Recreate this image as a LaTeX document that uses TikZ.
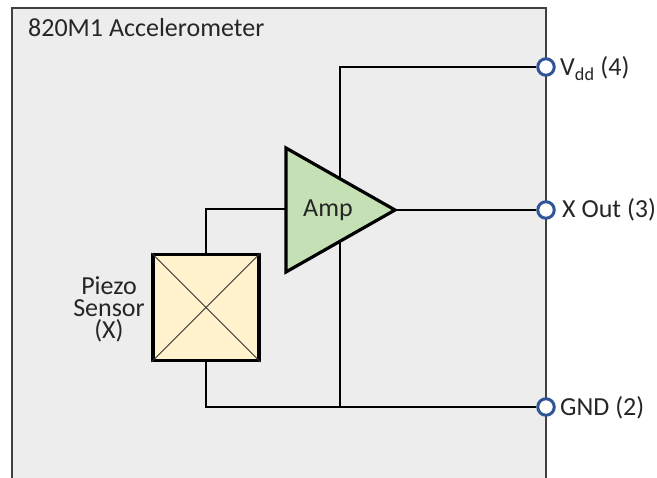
\documentclass[tikz,border=0pt]{standalone}
\usepackage{fontspec}
\setmainfont{Carlito}
\begin{document}
\begin{tikzpicture}[x=1pt,y=-1pt,
  lbl/.style={font=\fontsize{26}{21}\selectfont, inner sep=0pt, text=black!85},
  wire/.style={line width=2pt, black},
  term/.style={circle, fill=white, line width=3pt, minimum size=16.5pt, inner sep=0pt},
  sensorbox/.style={draw=black, line width=3.2pt, minimum size=106pt, inner sep=0pt},
]
\definecolor{boxgray}{HTML}{EDEDED}
\definecolor{ampgreen}{HTML}{C5E0B4}
\definecolor{termblue}{HTML}{2F5597}
\definecolor{sensfill}{HTML}{FFF2CC}
\useasboundingbox (0,0) rectangle (657,478);
% module outline
\fill[boxgray] (12,8) rectangle (546,478);
\draw[line width=1.4pt, black!75] (12,478) -- (12,8) -- (546,8) -- (546,478);
\node[lbl, anchor=base west] (title) at (28,37) {820M1 Accelerometer};

% sensor
\node[sensorbox, fill=sensfill] (sens) at (206,307.5) {};
\draw[line width=1pt, black!80] (sens.north west) -- (sens.south east);
\draw[line width=1pt, black!80] (sens.north east) -- (sens.south west);
\node[lbl, align=center, font=\fontsize{26}{22}\selectfont] (slbl) at (109,309) {Piezo\\Sensor\\(X)};

% terminals
\node[term, draw=termblue] (vdd) at (546,67) {};
\node[term, draw=termblue] (xout) at (546,210) {};
\node[term, draw=termblue] (gnd) at (546,407) {};
\node[lbl, anchor=base west] (vddl) at (560,76) {V\textsubscript{dd} (4)};
\node[lbl, anchor=base west] (xoutl) at (562,218) {X Out (3)};
\node[lbl, anchor=base west] (gndl) at (560,416) {GND (2)};

% amplifier geometry
\coordinate (atop) at (286,148);
\coordinate (abot) at (286,272);
\coordinate (ain) at (286,209);
\coordinate (aout) at (395,210);
\coordinate (rail) at (340,67);
\coordinate (gndrail) at (340,407);
\coordinate (scorner) at (206,209);
\coordinate (gcorner) at (206,407);

% wires
\draw[wire] (vdd.west) -- (rail) -- (gndrail);
\draw[wire] (sens.north) -- (scorner) -- (ain);
\draw[wire] (sens.south) -- (gcorner) -- (gnd.west);
\draw[wire] (aout) -- (xout.west);

% amplifier
\draw[line width=3.2pt, fill=ampgreen, line join=miter] (atop) -- (aout) -- (abot) -- cycle;
\node[lbl, anchor=base west] (amp) at (303,217) {Amp};
\end{tikzpicture}
\end{document}
